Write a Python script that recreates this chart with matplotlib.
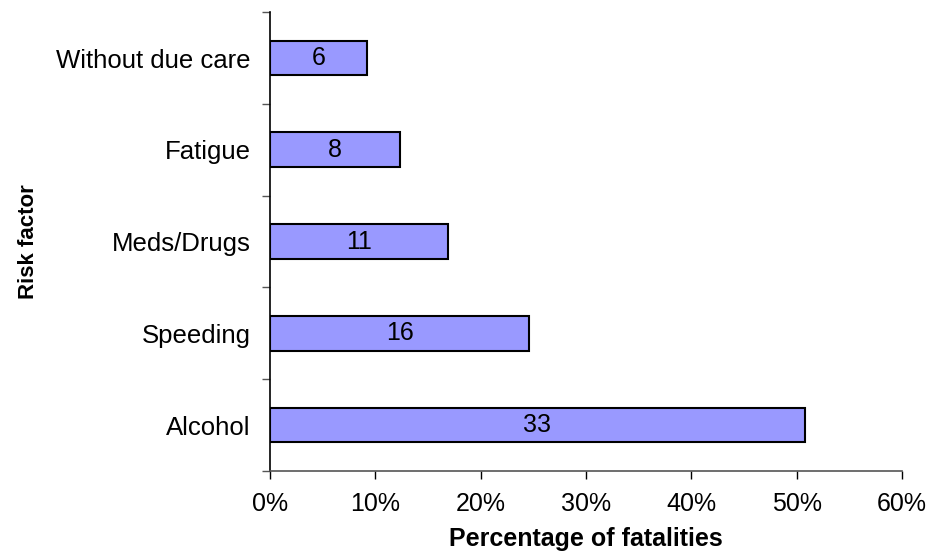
import matplotlib
matplotlib.use('Agg')
import matplotlib.pyplot as plt
from matplotlib.ticker import FixedLocator, PercentFormatter

plt.rcParams['font.family'] = ['Liberation Sans', 'DejaVu Sans']

# fatalities per risk factor (one crash can have several factors)
factors = ['Alcohol', 'Speeding', 'Meds/Drugs', 'Fatigue', 'Without due care']
counts = [33, 16, 11, 8, 6]
total_fatalities = 65

pct = [c / total_fatalities * 100 for c in counts]
ypos = list(range(len(factors)))

fig = plt.figure(figsize=(9.29, 5.54), dpi=100)
ax = fig.add_axes([0.2906, 0.150, 0.6805, 0.828])

bars = ax.barh(ypos, pct, height=0.38, color='#9999FF', edgecolor='black', linewidth=1.5)
for b, c in zip(bars, counts):
    ax.text(b.get_width() / 2, b.get_y() + b.get_height() / 2, str(c),
            ha='center', va='center', fontsize=18)

ax.set_xlim(0, 60)
ax.set_ylim(-0.5, len(factors) - 0.5)
ax.set_xticks(range(0, 61, 10))
ax.xaxis.set_major_formatter(PercentFormatter(decimals=0))

# category labels without ticks, tick marks on the band edges
ax.set_yticks(ypos)
ax.set_yticklabels(factors)
ax.tick_params(axis='y', which='major', length=0, pad=14, labelsize=18.5)
ax.yaxis.set_minor_locator(FixedLocator([i - 0.5 for i in range(len(factors) + 1)]))
ax.tick_params(axis='y', which='minor', length=6, width=1, color='#555555', direction='out')
ax.tick_params(axis='x', length=6, width=1, direction='out', pad=9, labelsize=18)

for s in ['top', 'right']:
    ax.spines[s].set_visible(False)
ax.spines['left'].set_linewidth(1.2)
ax.spines['bottom'].set_linewidth(1.2)
ax.spines['bottom'].set_color('#555555')

ax.set_xlabel('Percentage of fatalities', fontsize=18, fontweight='bold', labelpad=8)
ax.set_ylabel('Risk factor', fontsize=16, fontweight='bold', labelpad=12)

fig.savefig('out.png', dpi=100)
